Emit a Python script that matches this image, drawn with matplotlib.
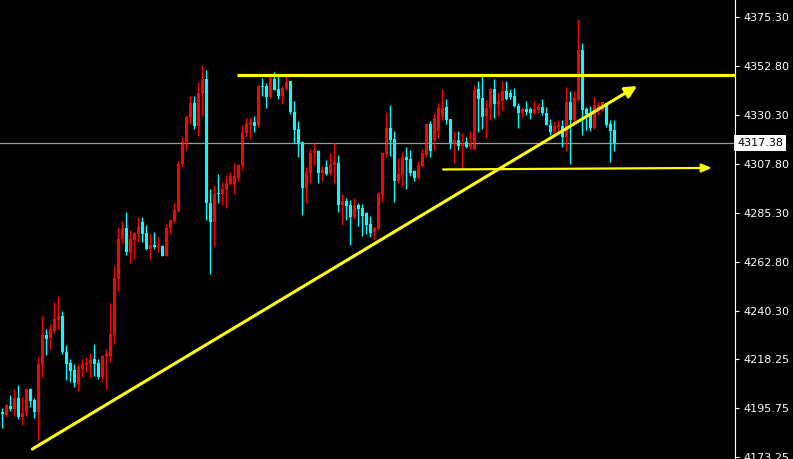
import numpy as np
from matplotlib import pyplot as plt

opens = [4194.1, 4192.5, 4196.8, 4195.2, 4200.4, 4191.8, 4193.3, 4204.5, 4199.4, 4193.9,
         4215.5, 4229.3, 4227.8, 4231.1, 4236.2, 4238.0, 4221.5, 4216.6, 4213.2, 4206.9,
         4213.8, 4215.6, 4216.0, 4218.3, 4216.3, 4210.0, 4219.6, 4219.6, 4229.3, 4255.0,
         4273.4, 4278.4, 4267.5, 4273.0, 4275.7, 4281.2, 4276.1, 4268.8, 4270.6, 4269.7,
         4270.2, 4265.7, 4278.4, 4281.8, 4286.2, 4307.7, 4317.9, 4328.9, 4335.8, 4325.4,
         4340.1, 4346.8, 4289.9, 4281.3, 4294.5, 4294.0, 4295.9, 4298.6, 4298.6, 4301.4,
         4306.9, 4322.0, 4325.7, 4327.2, 4325.7, 4343.8, 4343.6, 4338.4, 4346.7, 4342.1,
         4339.0, 4342.2, 4345.9, 4331.8, 4323.9, 4318.0, 4296.9, 4303.8, 4312.7, 4313.9,
         4303.8, 4306.3, 4303.5, 4307.3, 4308.3, 4289.0, 4291.0, 4289.0, 4283.3, 4289.0,
         4287.5, 4285.2, 4280.3, 4276.6, 4278.0, 4293.6, 4312.4, 4324.5, 4319.3, 4300.1,
         4302.8, 4311.2, 4310.1, 4304.6, 4302.0, 4306.9, 4311.9, 4326.2, 4318.8, 4323.0,
         4329.3, 4334.1, 4328.5, 4317.3, 4318.8, 4316.1, 4318.0, 4315.5, 4314.6, 4342.2,
         4338.3, 4329.9, 4333.4, 4342.2, 4335.4, 4336.9, 4341.3, 4340.5, 4339.0, 4334.6,
         4331.1, 4332.9, 4333.1, 4331.1, 4332.6, 4333.8, 4331.4, 4325.7, 4322.6, 4324.9,
         4325.3, 4320.2, 4336.3, 4328.0, 4337.2, 4360.2, 4332.9, 4331.1, 4324.2, 4332.8,
         4332.6, 4335.7, 4326.2, 4323.4]
highs = [4195.8, 4197.5, 4201.7, 4204.3, 4206.3, 4201.0, 4204.8, 4204.8, 4200.2, 4219.3,
         4238.1, 4232.0, 4234.3, 4244.6, 4247.2, 4240.3, 4224.7, 4218.3, 4216.0, 4215.8,
         4218.1, 4219.0, 4220.9, 4225.2, 4218.3, 4220.0, 4222.9, 4243.8, 4261.0, 4278.9,
         4281.6, 4285.8, 4277.5, 4276.5, 4283.3, 4283.5, 4279.8, 4276.1, 4276.6, 4274.3,
         4270.6, 4280.3, 4282.4, 4289.8, 4309.0, 4320.1, 4330.2, 4339.0, 4339.0, 4345.5,
         4353.3, 4351.0, 4296.3, 4298.2, 4303.2, 4299.5, 4302.8, 4304.1, 4308.3, 4307.8,
         4325.7, 4328.9, 4329.5, 4329.8, 4344.1, 4347.2, 4344.9, 4347.9, 4350.1, 4348.2,
         4343.7, 4348.4, 4346.0, 4336.7, 4327.6, 4318.5, 4306.3, 4314.6, 4317.3, 4314.2,
         4306.9, 4309.6, 4312.7, 4317.3, 4311.8, 4294.0, 4292.1, 4291.3, 4292.2, 4289.8,
         4289.4, 4285.9, 4283.9, 4279.3, 4294.9, 4312.9, 4331.8, 4334.9, 4323.1, 4310.6,
         4313.5, 4315.5, 4314.2, 4305.1, 4309.2, 4314.6, 4326.8, 4327.6, 4331.1, 4335.7,
         4342.1, 4337.5, 4328.5, 4323.0, 4323.0, 4321.9, 4320.1, 4323.0, 4344.1, 4345.8,
         4348.2, 4337.2, 4342.6, 4346.8, 4341.0, 4345.9, 4345.9, 4342.1, 4342.6, 4336.0,
         4334.1, 4336.7, 4334.1, 4336.9, 4336.0, 4337.5, 4334.1, 4328.3, 4327.6, 4328.0,
         4328.0, 4343.0, 4341.3, 4341.1, 4374.4, 4363.2, 4334.1, 4334.4, 4338.4, 4336.4,
         4336.9, 4336.0, 4328.0, 4328.0]
lows = [4186.7, 4191.8, 4194.5, 4192.1, 4190.7, 4188.0, 4192.2, 4196.4, 4191.3, 4181.1,
        4210.1, 4220.1, 4223.0, 4230.3, 4231.9, 4220.4, 4208.6, 4207.8, 4205.5, 4203.7,
        4210.1, 4212.4, 4210.1, 4210.5, 4208.9, 4208.2, 4204.3, 4217.0, 4225.2, 4249.5,
        4271.7, 4266.2, 4262.5, 4264.0, 4272.1, 4272.0, 4268.3, 4264.0, 4268.9, 4267.5,
        4265.4, 4265.4, 4275.8, 4280.9, 4285.9, 4306.6, 4314.2, 4326.2, 4324.0, 4320.7,
        4330.0, 4282.1, 4257.2, 4270.2, 4290.0, 4289.0, 4287.7, 4298.2, 4294.0, 4300.0,
        4305.1, 4320.1, 4319.1, 4322.6, 4324.7, 4339.0, 4333.4, 4338.0, 4341.6, 4337.5,
        4335.2, 4342.0, 4330.6, 4317.3, 4311.2, 4284.4, 4290.0, 4299.2, 4307.3, 4299.2,
        4300.1, 4302.8, 4302.8, 4298.9, 4285.9, 4279.8, 4282.1, 4270.6, 4282.4, 4279.3,
        4274.7, 4275.7, 4274.4, 4273.4, 4277.5, 4290.5, 4310.9, 4311.5, 4290.5, 4299.2,
        4297.4, 4296.5, 4302.3, 4300.1, 4300.8, 4306.6, 4310.8, 4310.9, 4314.2, 4319.9,
        4328.0, 4326.2, 4314.8, 4308.1, 4314.2, 4306.1, 4315.3, 4314.6, 4314.3, 4322.6,
        4323.7, 4319.9, 4328.0, 4328.8, 4329.9, 4332.6, 4337.4, 4337.7, 4334.1, 4324.2,
        4329.5, 4330.3, 4328.3, 4330.6, 4331.1, 4330.3, 4325.5, 4321.1, 4321.6, 4322.6,
        4315.8, 4313.9, 4307.8, 4327.2, 4336.9, 4321.1, 4323.4, 4323.1, 4323.7, 4330.3,
        4332.3, 4324.9, 4308.9, 4313.9]
closes = [4192.9, 4197.0, 4195.3, 4200.4, 4191.8, 4193.5, 4204.5, 4199.1, 4193.9, 4216.0,
          4229.3, 4227.6, 4232.0, 4236.6, 4238.0, 4221.6, 4216.0, 4212.9, 4207.1, 4214.5,
          4216.0, 4216.6, 4217.8, 4216.0, 4210.0, 4219.6, 4220.6, 4229.7, 4255.3, 4273.4,
          4278.6, 4267.5, 4273.4, 4276.3, 4279.3, 4275.8, 4268.8, 4270.6, 4269.6, 4270.2,
          4265.7, 4278.4, 4282.1, 4286.7, 4307.8, 4317.8, 4329.4, 4335.8, 4325.4, 4340.4,
          4346.8, 4289.9, 4281.3, 4294.0, 4294.0, 4296.3, 4299.1, 4302.5, 4302.3, 4307.3,
          4322.5, 4326.2, 4327.2, 4325.3, 4343.6, 4343.3, 4338.7, 4347.4, 4341.8, 4339.0,
          4342.8, 4345.5, 4331.8, 4323.4, 4317.3, 4296.9, 4304.0, 4313.0, 4313.9, 4303.8,
          4305.1, 4303.2, 4307.8, 4308.7, 4289.0, 4291.0, 4288.5, 4283.3, 4289.0, 4287.1,
          4283.9, 4279.8, 4276.3, 4278.3, 4294.0, 4312.7, 4324.5, 4318.8, 4300.1, 4303.2,
          4310.9, 4309.6, 4303.8, 4301.2, 4307.3, 4312.9, 4326.2, 4313.9, 4328.8, 4333.7,
          4333.4, 4328.0, 4317.3, 4318.8, 4316.1, 4317.3, 4315.8, 4317.6, 4341.8, 4337.7,
          4329.5, 4333.4, 4342.2, 4335.4, 4336.7, 4341.3, 4337.7, 4338.7, 4334.6, 4331.1,
          4332.9, 4331.8, 4331.1, 4332.9, 4334.1, 4331.1, 4325.7, 4322.6, 4325.3, 4325.7,
          4320.3, 4336.3, 4327.8, 4338.1, 4360.2, 4332.6, 4330.8, 4324.2, 4334.9, 4334.9,
          4336.3, 4325.7, 4323.1, 4317.38]

tick_values = [4375.30, 4352.80, 4330.30, 4307.80, 4285.30, 4262.80, 4240.30, 4218.25, 4195.75, 4173.25]
last_price = 4317.38

# drawn objects (bar index, price)
resistance = ([58.7, 184.0], [4348.9, 4348.9])
trend_start = (7.5, 4176.9)
trend_end = (158.7, 4343.6)
support_start = (110.2, 4305.3)
support_end = (177.4, 4306.0)

UP = '#ff0000'
DOWN = '#00ffff'
YELLOW = '#ffff00'

fig = plt.figure(figsize=(7.93, 4.59), dpi=100, facecolor='black')
ax = fig.add_axes([0, 0, 735 / 793, 1])
ax.set_facecolor('black')

x = np.arange(len(opens))
for i in x:
    o, h, l, c = opens[i], highs[i], lows[i], closes[i]
    col = UP if c >= o else DOWN
    ax.vlines(i, l, h, color=col, linewidth=1.0)
    ax.bar(i, max(abs(c - o), 0.45), bottom=min(o, c), width=0.75, color=col, linewidth=0)

ax.axhline(last_price, color='#9a9a9a', linewidth=0.9, zorder=1)

ax.plot(resistance[0], resistance[1], color=YELLOW, linewidth=2.3, solid_capstyle='butt')
ax.annotate('', xy=trend_end, xytext=trend_start,
            arrowprops=dict(arrowstyle='-|>,head_length=0.7,head_width=0.35', color=YELLOW,
                            linewidth=2.2, shrinkA=0, shrinkB=0))
ax.annotate('', xy=support_end, xytext=support_start,
            arrowprops=dict(arrowstyle='-|>,head_length=0.6,head_width=0.25', color=YELLOW,
                            linewidth=1.6, shrinkA=0, shrinkB=0))

ax.set_xlim(-0.575, 183.175)
ax.set_ylim(4172.34, 4383.11)

for s in ['left', 'top', 'bottom']:
    ax.spines[s].set_visible(False)
ax.spines['right'].set_color('white')
ax.spines['right'].set_linewidth(0.8)
ax.set_xticks([])
ax.yaxis.tick_right()
ax.set_yticks(tick_values)
ax.set_yticklabels(['%.2f' % v for v in tick_values])
ax.tick_params(axis='y', colors='white', length=3, width=0.8, pad=3, labelsize=8)

ax.text(1.003, last_price, '%.2f' % last_price, transform=ax.get_yaxis_transform(),
        ha='left', va='center', fontsize=8, color='black', clip_on=False,
        bbox=dict(facecolor='white', edgecolor='none', boxstyle='square,pad=0.25'))

plt.savefig('out.png', dpi=100, facecolor='black')
